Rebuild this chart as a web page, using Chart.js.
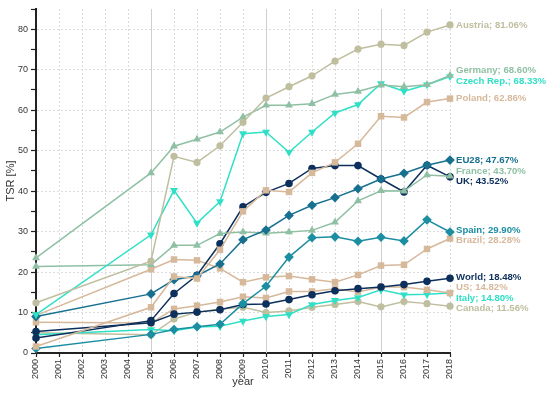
<!DOCTYPE html>
<html>
<head>
<meta charset="utf-8">
<script src="https://cdn.jsdelivr.net/npm/chart.js@4/dist/chart.umd.min.js"></script>
<style>
  html, body { margin: 0; padding: 0; background: #fff; }
  #wrap { width: 550px; height: 393px; position: relative; }
</style>
</head>
<body>
<div id="wrap"><canvas id="c"></canvas></div>
<script>
const years = [2000, 2005, 2006, 2007, 2008, 2009, 2010, 2011, 2012, 2013, 2014, 2015, 2016, 2017, 2018];
const austria = [12.4, 22.7, 48.6, 47.1, 51.2, 57.0, 63.0, 65.8, 68.5, 72.1, 75.1, 76.3, 76.0, 79.3, 81.06];
const germany = [23.5, 44.5, 51.1, 52.8, 54.6, 58.3, 61.2, 61.2, 61.6, 63.9, 64.6, 66.2, 65.8, 66.3, 68.60];
const czech   = [9.5, 29.2, 40.2, 32.1, 37.4, 54.2, 54.6, 49.6, 54.6, 59.3, 61.4, 66.6, 64.7, 66.3, 68.33];
const poland  = [1.6, 11.3, 18.9, 18.4, 25.5, 35.0, 40.2, 39.8, 44.5, 47.1, 51.7, 58.5, 58.2, 62.0, 62.86];
const eu28    = [9.0, 14.6, 18.1, 19.1, 22.0, 28.0, 30.4, 34.0, 36.5, 38.4, 40.6, 43.0, 44.4, 46.4, 47.67];
const france  = [21.4, 21.8, 26.6, 26.6, 29.5, 29.9, 29.6, 29.9, 30.3, 32.3, 37.6, 40.1, 40.0, 44.0, 43.70];
const uk      = [3.7, 8.0, 14.7, 19.2, 27.0, 36.1, 39.7, 41.9, 45.6, 46.3, 46.3, 43.0, 39.8, 46.4, 43.52];
const spain   = [1.1, 4.6, 5.8, 6.5, 7.1, 12.2, 16.5, 23.7, 28.5, 28.7, 27.6, 28.6, 27.7, 32.9, 29.90];
const brazil  = [9.3, 20.7, 23.1, 22.9, 20.9, 17.5, 18.7, 19.0, 18.2, 17.5, 19.3, 21.6, 21.8, 25.7, 28.28];
const world   = [5.3, 7.5, 9.6, 10.1, 10.7, 12.0, 12.1, 13.2, 14.4, 15.4, 15.9, 16.3, 16.9, 17.7, 18.48];
const us      = [7.6, 7.4, 10.9, 11.7, 12.6, 13.9, 13.6, 15.2, 15.2, 15.9, 15.1, 16.3, 16.3, 15.6, 14.82];
const italy   = [4.5, 5.8, 5.5, 6.4, 6.6, 7.9, 9.0, 9.5, 12.0, 13.0, 13.7, 15.6, 14.4, 14.5, 14.80];
const canada  = [5.0, 4.5, 8.4, 10.1, 10.9, 11.3, 10.0, 10.4, 11.3, 12.0, 12.7, 11.4, 12.7, 12.2, 11.56];

const seriesNames = ['Austria', 'Germany', 'Czech Rep.', 'Poland', 'EU28', 'France', 'UK', 'Spain', 'Brazil', 'World', 'US', 'Italy', 'Canada'];
const seriesValues = [austria, germany, czech, poland, eu28, france, uk, spain, brazil, world, us, italy, canada];
const solidYears = [2005, 2010, 2015];
const yTickLabels = [0, 10, 20, 30, 40, 50, 60, 70, 80];

const C_KHAKI = '#bfbe9f', C_GREEN = '#8fc0a4', C_TURQ = '#2fe0c6', C_TAN = '#d6b89b',
      C_EU = '#17708f', C_SPAIN = '#1b8ea2', C_NAVY = '#0d2f5c';
const styles = {
  'Austria':   { c: C_KHAKI, p: 'circle', r: 3.6, rot: 0 },
  'Germany':   { c: C_GREEN, p: 'triangle', r: 4.6, rot: 0 },
  'Czech Rep.':{ c: C_TURQ,  p: 'triangle', r: 4.6, rot: 180 },
  'Poland':    { c: C_TAN,   p: 'rect', r: 4.6, rot: 0 },
  'EU28':      { c: C_EU,    p: 'rectRot', r: 4.8, rot: 0 },
  'France':    { c: C_GREEN, p: 'triangle', r: 4.6, rot: 0 },
  'UK':        { c: C_NAVY,  p: 'circle', r: 3.8, rot: 0 },
  'Spain':     { c: C_SPAIN, p: 'rectRot', r: 4.8, rot: 0 },
  'Brazil':    { c: C_TAN,   p: 'rect', r: 4.6, rot: 0 },
  'World':     { c: C_NAVY,  p: 'circle', r: 3.8, rot: 0 },
  'US':        { c: C_TAN,   p: 'rect', r: 4.6, rot: 0 },
  'Italy':     { c: C_TURQ,  p: 'triangle', r: 4.6, rot: 180 },
  'Canada':    { c: C_KHAKI, p: 'circle', r: 3.6, rot: 0 }
};

const datasets = seriesNames.map((name, i) => {
  const s = styles[name];
  return {
    label: name,
    data: years.map((yr, k) => ({ x: yr, y: seriesValues[i][k] })),
    borderColor: s.c,
    backgroundColor: s.c,
    borderWidth: 1.5,
    pointStyle: s.p,
    pointRadius: s.r,
    pointRotation: s.rot,
    pointBorderWidth: 0,
    pointBackgroundColor: s.c,
    tension: 0,
    clip: false
  };
});

const FONT = '"Liberation Sans", Arial, sans-serif';

const solidGridPlugin = {
  id: 'solidGrid',
  beforeDatasetsDraw(chart) {
    const ctx = chart.ctx, xs = chart.scales.x, a = chart.chartArea;
    ctx.save();
    ctx.strokeStyle = '#cfcfcf';
    ctx.lineWidth = 1;
    solidYears.forEach(yr => {
      const px = Math.round(xs.getPixelForValue(yr)) + 0.5;
      ctx.beginPath();
      ctx.moveTo(px, a.top);
      ctx.lineTo(px, a.bottom);
      ctx.stroke();
    });
    ctx.restore();
  }
};

const endLabelPlugin = {
  id: 'endLabels',
  afterDatasetsDraw(chart) {
    const ctx = chart.ctx, xs = chart.scales.x, ys = chart.scales.y;
    const items = seriesNames.map((name, i) => {
      const vals = seriesValues[i];
      const v = vals[vals.length - 1];
      return { name, v, c: styles[name].c, y: ys.getPixelForValue(v), y0: ys.getPixelForValue(v) };
    });
    items.sort((a, b) => a.y0 - b.y0);
    const gap = 10.5;
    for (let it = 0; it < 200; it++) {
      let moved = false;
      for (let k = 0; k < items.length - 1; k++) {
        const d = items[k + 1].y - items[k].y;
        if (d < gap) {
          const push = (gap - d) / 2;
          items[k].y -= push;
          items[k + 1].y += push;
          moved = true;
        }
      }
      if (!moved) break;
    }
    ctx.save();
    ctx.font = 'bold 9.6px ' + FONT;
    ctx.textBaseline = 'middle';
    ctx.textAlign = 'left';
    const x0 = xs.getPixelForValue(years[years.length - 1]) + 6;
    items.forEach(it => {
      ctx.fillStyle = it.c;
      ctx.fillText(it.name + '; ' + it.v.toFixed(2) + '%', x0, it.y);
    });
    ctx.restore();
  }
};

new Chart(document.getElementById('c'), {
  type: 'line',
  data: { datasets },
  options: {
    responsive: true,
    maintainAspectRatio: false,
    animation: false,
    layout: { padding: { top: 9, right: 100, left: 0, bottom: 0 } },
    plugins: { legend: { display: false }, tooltip: { enabled: false } },
    scales: {
      x: {
        type: 'linear',
        min: 2000, max: 2018,
        afterFit(s) { s.height = 40; },
        ticks: {
          stepSize: 1,
          autoSkip: false,
          maxRotation: 90, minRotation: 90,
          padding: 2,
          color: '#333',
          font: { family: FONT, size: 9 },
          callback: v => String(v)
        },
        grid: {
          color: ctx => (solidYears.includes(ctx.tick && ctx.tick.value) ? 'rgba(0,0,0,0)' : '#dcdcdc'),
          lineWidth: 1,
          tickColor: '#222',
          tickLength: 4,
          tickWidth: 1.2
        },
        border: { display: true, color: '#222', width: 2, dash: [2, 2] },
        title: { display: true, text: 'year', color: '#333', font: { family: FONT, size: 11 }, padding: { top: 2, bottom: 4 } }
      },
      y: {
        min: 0, max: 85,
        afterFit(s) { s.width = 36; },
        ticks: {
          stepSize: 5,
          padding: 3,
          color: '#333',
          font: { family: FONT, size: 9 },
          callback: v => (yTickLabels.includes(v) ? String(v) : '')
        },
        grid: {
          color: ctx => (ctx.tick && ctx.tick.value % 10 === 0 && ctx.tick.value !== 0 ? '#dcdcdc' : 'rgba(0,0,0,0)'),
          lineWidth: 1,
          tickColor: '#222',
          tickLength: 5,
          tickWidth: 1.2
        },
        border: { display: true, color: '#222', width: 2, dash: [2, 2] },
        title: { display: true, text: 'TSR [%]', color: '#333', font: { family: FONT, size: 11 }, padding: { top: 4, bottom: 2 } }
      }
    }
  },
  plugins: [solidGridPlugin, endLabelPlugin]
});
</script>
</body>
</html>
